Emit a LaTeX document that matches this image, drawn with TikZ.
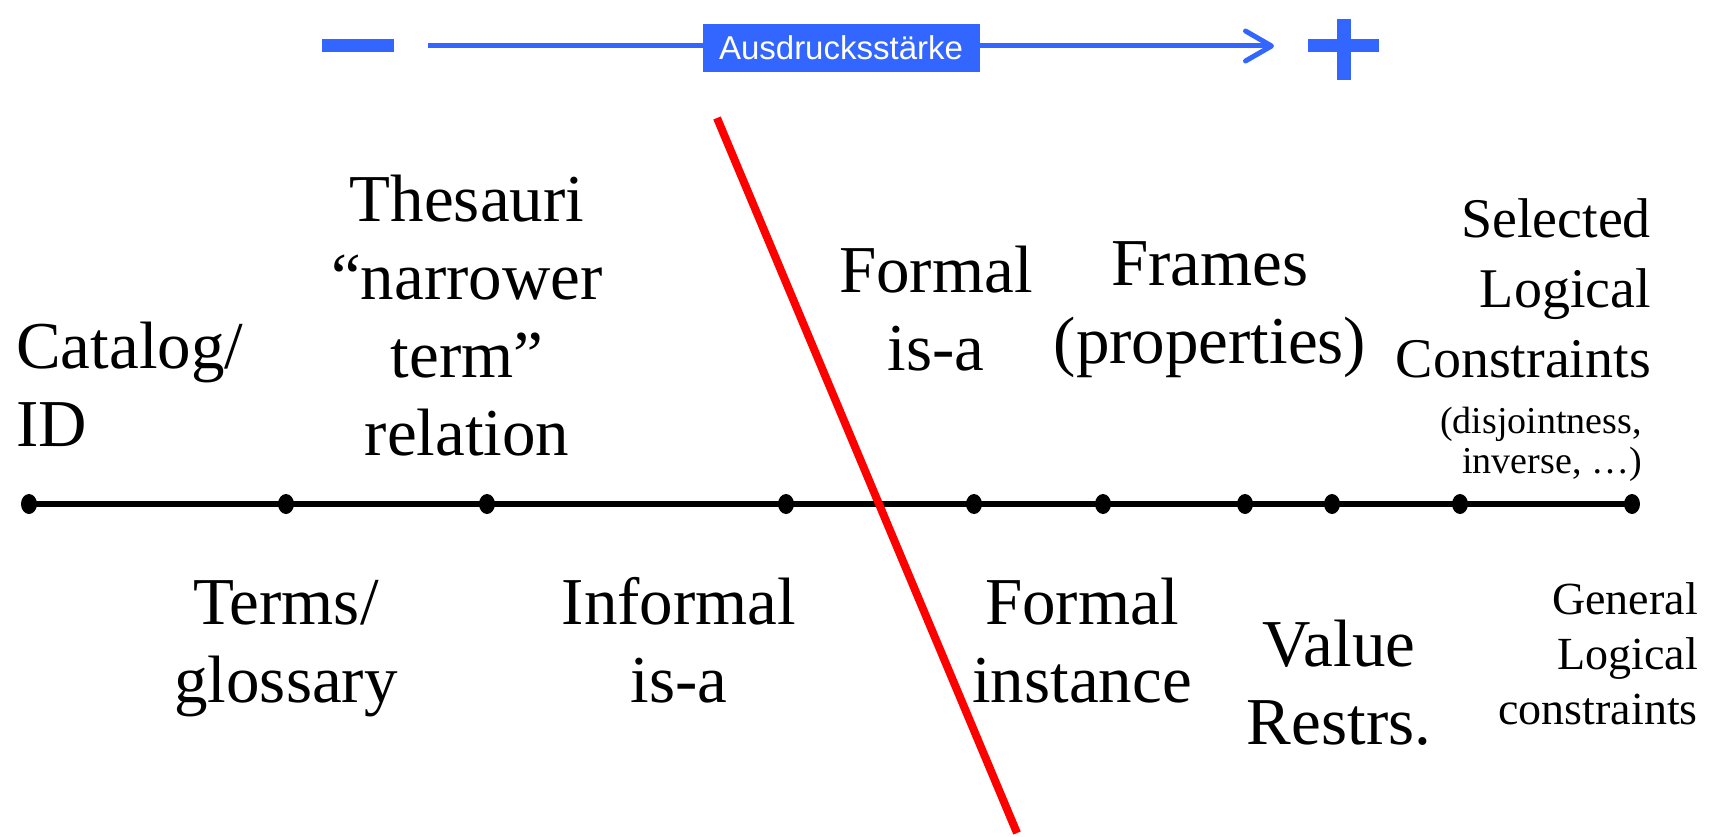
\documentclass[tikz,border=0pt]{standalone}
\usepackage{fontspec}
\setmainfont{Liberation Serif}
\newfontfamily\boxfont{Liberation Sans}
\usetikzlibrary{arrows.meta,shapes.geometric}
\definecolor{scaleblue}{RGB}{51,102,255}
\definecolor{cutred}{RGB}{255,0,0}
\tikzset{
  lbl/.style={inner sep=0pt, font=\fontsize{67}{78}\selectfont},
  lblmid/.style={inner sep=0pt, font=\fontsize{56}{70}\selectfont},
  lblsmall/.style={inner sep=0pt, font=\fontsize{46}{55}\selectfont},
  lbltiny/.style={inner sep=0pt, font=\fontsize{38}{40}\selectfont},
  dot/.style={ellipse, fill=black, inner sep=0pt, minimum width=16pt, minimum height=20pt},
  axis/.style={line width=6pt, black},
  cutline/.style={line width=8pt, cutred},
  scalearrow/.style={line width=5pt, scaleblue, -{Straight Barb[length=26pt,width=30pt,line cap=round,line join=round]}},
  kbox/.style={fill=scaleblue, text=white, inner sep=0pt, minimum width=277pt, minimum height=48pt,
    font=\boxfont\fontsize{33}{33}\selectfont},
}
\begin{document}
\begin{tikzpicture}[x=1pt,y=-1pt]
\useasboundingbox (0,0) rectangle (1712,837);

% strength scale at the top
\fill[scaleblue] (322,39) rectangle (394,52);
\fill[scaleblue] (1308,39) rectangle (1379,52);
\fill[scaleblue] (1337,19) rectangle (1351,80);
\coordinate (arrowstart) at (428,46);
\coordinate (arrowend) at (1274,46);
\draw[scalearrow] (arrowstart) -- (arrowend);
\node[kbox] (scalelabel) at (841,48) {Ausdrucksstärke};

% the axis with its points
\foreach \n/\x in {1/29,2/286,3/487,4/786,5/974,6/1103,7/1245,8/1332,9/1460,10/1632}
  \node[dot] (p\n) at (\x,504) {};
\draw[axis] (p1.center) -- (p10.center);

% labels above the axis (anchored on the baseline of the last line)
\node[lbl, align=left, anchor=base west] (catalog) at (16,446) {Catalog/\\ID};
\node[lbl, align=center, anchor=base] (thesauri) at (467,455) {Thesauri\\“narrower\\term”\\relation};
\node[lbl, align=center, anchor=base] (formalisa) at (936,370) {Formal\\is-a};
\node[lbl, align=center, anchor=base] (frames) at (1210,363) {Frames\\(properties)};
\node[lblmid, align=right, anchor=base east] (selected) at (1651,377) {Selected\\Logical\\Constraints};
\node[lbltiny, align=right, anchor=base east] (disjoint) at (1642,473) {(disjointness,\\inverse, …)};

% labels below the axis
\node[lbl, align=center, anchor=base] (terms) at (286,702) {Terms/\\glossary};
\node[lbl, align=center, anchor=base] (informal) at (679,702) {Informal\\is-a};
\node[lbl, align=center, anchor=base] (instance) at (1082,702) {Formal\\instance};
\node[lbl, align=center, anchor=base] (value) at (1339,744) {Value\\Restrs.};
\node[lblsmall, align=right, anchor=base east] (general) at (1698,724) {General\\Logical\\constraints};

% dividing line
\coordinate (cuttop) at (717,118);
\coordinate (cutbottom) at (1017,833);
\draw[cutline] (cuttop) -- (cutbottom);
\end{tikzpicture}
\end{document}
